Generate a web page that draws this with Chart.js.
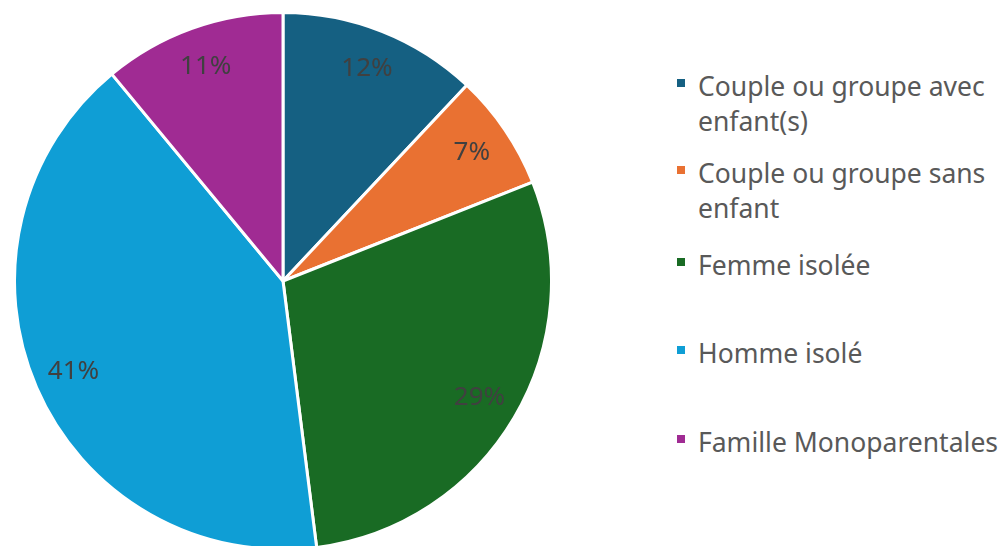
<!DOCTYPE html>
<html>
<head>
<meta charset="utf-8">
<script src="https://cdn.jsdelivr.net/npm/chart.js@4/dist/chart.umd.min.js"></script>
<style>
  html, body { margin: 0; padding: 0; background: #ffffff; overflow: hidden; width: 1008px; height: 546px; }
  #pieBox { position: absolute; left: 13px; top: 11px; width: 540px; height: 540px; }
  #legend { position: absolute; left: 677px; top: 0; width: 331px; height: 546px;
            font-family: "Noto Sans", sans-serif; font-size: 26.5px; color: #595959; }
  .item { position: absolute; left: 0; display: flex; align-items: flex-start; white-space: nowrap; line-height: 35px; }
  .sw { width: 8px; height: 8px; margin-top: 10px; margin-right: 13px; flex: none; }
  .item:nth-child(1) { top: 69px; }
  .item:nth-child(2) { top: 156px; }
  .item:nth-child(3) { top: 248px; }
  .item:nth-child(4) { top: 336px; }
  .item:nth-child(5) { top: 425px; }
</style>
</head>
<body>
<div id="pieBox"><canvas id="c"></canvas></div>
<div id="legend"></div>
<script>
const categories = [
  ["Couple ou groupe avec", "enfant(s)"],
  ["Couple ou groupe sans", "enfant"],
  ["Femme isolée"],
  ["Homme isolé"],
  ["Famille Monoparentales"]
];
const values = [12, 7, 29, 41, 11];
const colors = ["#156082", "#E97132", "#196B24", "#0F9ED5", "#A02B93"];

const pctLabels = {
  id: 'pctLabels',
  afterDatasetsDraw(chart) {
    const ctx = chart.ctx;
    const meta = chart.getDatasetMeta(0);
    const total = values.reduce((a, b) => a + b, 0);
    ctx.save();
    ctx.font = '26px "Noto Sans", sans-serif';
    ctx.fillStyle = '#404040';
    ctx.textAlign = 'center';
    ctx.textBaseline = 'middle';
    meta.data.forEach((arc, i) => {
      const p = arc.getProps(['x', 'y', 'startAngle', 'endAngle', 'outerRadius'], true);
      const mid = (p.startAngle + p.endAngle) / 2;
      const r = p.outerRadius * 0.85;
      const x = p.x + Math.cos(mid) * r;
      const y = p.y + Math.sin(mid) * r;
      ctx.fillText(Math.round(values[i] / total * 100) + '%', x, y);
    });
    ctx.restore();
  }
};

const chart = new Chart(document.getElementById('c'), {
  type: 'pie',
  data: {
    labels: categories,
    datasets: [{
      data: values,
      backgroundColor: colors,
      borderColor: '#ffffff',
      borderWidth: 3
    }]
  },
  options: {
    responsive: true,
    maintainAspectRatio: false,
    animation: false,
    layout: { padding: 0 },
    plugins: {
      legend: { display: false },
      tooltip: { enabled: false }
    }
  },
  plugins: [pctLabels]
});

// HTML legend built from the same arrays
const legend = document.getElementById('legend');
categories.forEach((lines, i) => {
  const item = document.createElement('div');
  item.className = 'item';
  const sw = document.createElement('span');
  sw.className = 'sw';
  sw.style.background = colors[i];
  const txt = document.createElement('span');
  txt.innerHTML = lines.join('<br>');
  item.appendChild(sw);
  item.appendChild(txt);
  legend.appendChild(item);
});
</script>
</body>
</html>
